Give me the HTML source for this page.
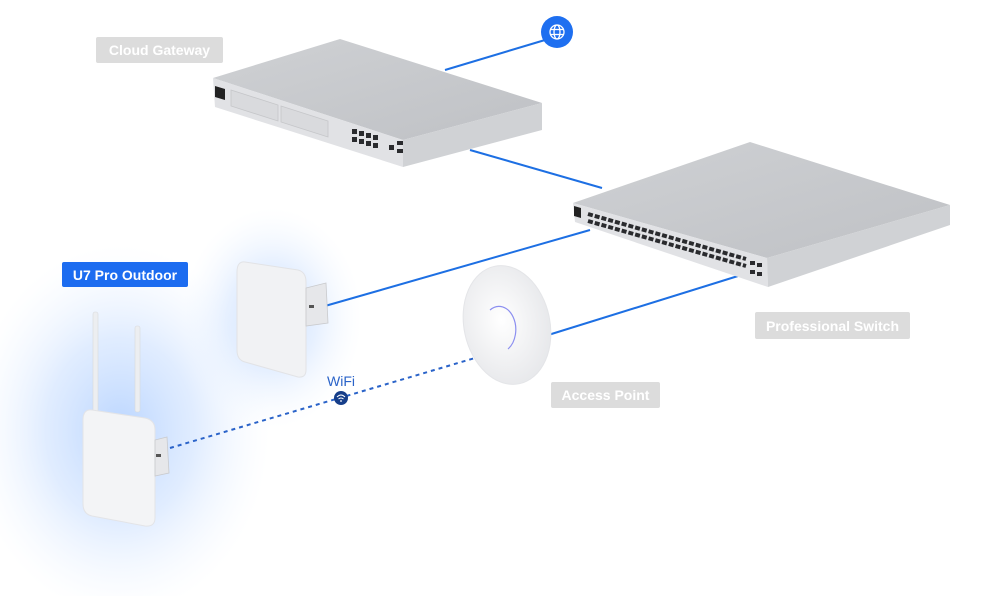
<!DOCTYPE html>
<html><head><meta charset="utf-8"><style>
html,body{margin:0;padding:0;background:#fff;width:1000px;height:596px;overflow:hidden}
svg{display:block}
text{font-family:"Liberation Sans",sans-serif}
</style></head><body>
<svg width="1000" height="596" viewBox="0 0 1000 596" xmlns="http://www.w3.org/2000/svg">
<defs>
<radialGradient id="g1" cx="0.5" cy="0.5" r="0.5">
<stop offset="0" stop-color="#8dbaff" stop-opacity="0.6"/>
<stop offset="0.5" stop-color="#b3d1ff" stop-opacity="0.4"/>
<stop offset="1" stop-color="#e2eeff" stop-opacity="0"/>
</radialGradient>
<linearGradient id="top" x1="0" y1="0" x2="1" y2="1">
<stop offset="0" stop-color="#cfd1d4"/><stop offset="1" stop-color="#bfc1c5"/>
</linearGradient>
<radialGradient id="apg" cx="0.45" cy="0.45" r="0.6">
<stop offset="0" stop-color="#ffffff"/><stop offset="1" stop-color="#e6e7ea"/>
</radialGradient>
</defs>

<!-- glows -->
<ellipse cx="120" cy="430" rx="150" ry="185" fill="url(#g1)"/>
<ellipse cx="272" cy="318" rx="90" ry="110" fill="url(#g1)" opacity="0.8"/>

<!-- connectors -->
<g stroke="#1d6fe3" stroke-width="2" fill="none">
<line x1="545" y1="40" x2="445" y2="70"/>
<line x1="470" y1="150" x2="602" y2="188"/>
<line x1="590" y1="230" x2="325" y2="306"/>
<line x1="545" y1="336" x2="738" y2="276"/>
<line x1="170" y1="448" x2="475" y2="358" stroke-dasharray="4 4" stroke="#2a63c9"/>
</g>

<!-- globe -->
<circle cx="557" cy="32" r="16" fill="#1e6ff0"/>
<g stroke="#fff" stroke-width="1.3" fill="none">
<circle cx="557" cy="32" r="7"/><ellipse cx="557" cy="32" rx="3" ry="7"/>
<line x1="550" y1="29.5" x2="564" y2="29.5"/><line x1="550" y1="34.5" x2="564" y2="34.5"/>
</g>

<!-- Cloud gateway -->
<polygon points="213,78 340,39 542,103 403,140" fill="url(#top)"/>
<polygon points="213,78 403,140 403,167 215,107" fill="#e1e2e5"/>
<polygon points="403,140 542,103 542,130 403,167" fill="#d0d2d5"/>
<polygon points="215,86 225,89 225,100 215,97" fill="#222"/>
<polygon points="231,90 278,105 278,121 231,106" fill="#d9dadd" stroke="#c5c6c9" stroke-width="0.8"/>
<polygon points="281,106 328,121 328,137 281,122" fill="#d9dadd" stroke="#c5c6c9" stroke-width="0.8"/>
<g fill="#2a2b2e">
<rect x="352" y="129" width="5" height="5"/><rect x="359" y="131" width="5" height="5"/><rect x="366" y="133" width="5" height="5"/><rect x="373" y="135" width="5" height="5"/>
<rect x="352" y="137" width="5" height="5"/><rect x="359" y="139" width="5" height="5"/><rect x="366" y="141" width="5" height="5"/><rect x="373" y="143" width="5" height="5"/>
<rect x="389" y="145" width="5" height="5"/><rect x="397" y="141" width="6" height="4"/><rect x="397" y="149" width="6" height="4"/>
</g>

<!-- Professional switch -->
<polygon points="573,203 750,142 950,205 767,258" fill="url(#top)"/>
<polygon points="573,203 767,258 768,287 575,222" fill="#e1e2e5"/>
<polygon points="767,258 950,205 950,225 768,287" fill="#d0d2d5"/>
<polygon points="574,206 581,208 581,218 574,216" fill="#222"/>
<g stroke="#2a2b2e" stroke-width="4" stroke-dasharray="5 2">
<line x1="588" y1="214" x2="746" y2="259"/>
<line x1="588" y1="221" x2="746" y2="266"/>
</g>
<g fill="#2a2b2e">
<rect x="750" y="261" width="5" height="4"/><rect x="757" y="263" width="5" height="4"/>
<rect x="750" y="270" width="5" height="4"/><rect x="757" y="272" width="5" height="4"/>
</g>

<!-- outdoor AP 1 (upper) -->
<path d="M245,262 L298,270 Q306,272 306,282 L306,370 Q306,378 298,377 L245,362 Q237,360 237,350 L237,272 Q237,261 245,262 Z" fill="#f1f2f4" stroke="#e2e3e6" stroke-width="1"/>
<polygon points="306,288 326,283 328,323 306,326" fill="#e6e7ea" stroke="#c9cacd" stroke-width="0.8"/>
<rect x="309" y="305" width="5" height="3" fill="#555"/>

<!-- outdoor AP 2 (antennas) -->
<rect x="93" y="312" width="5" height="100" rx="2" fill="#eceef1" stroke="#d8dadd" stroke-width="0.6"/>
<rect x="135" y="326" width="5" height="86" rx="2" fill="#eceef1" stroke="#d8dadd" stroke-width="0.6"/>
<path d="M92,410 L145,418 Q155,420 155,430 L155,518 Q155,527 145,526 L92,516 Q83,514 83,504 L83,420 Q83,409 92,410 Z" fill="#f3f4f6" stroke="#e3e4e7" stroke-width="1"/>
<polygon points="155,440 167,437 169,473 155,476" fill="#e6e7ea" stroke="#c9cacd" stroke-width="0.8"/>
<rect x="156" y="454" width="5" height="3" fill="#555"/>

<!-- access point -->
<ellipse cx="507" cy="325" rx="43" ry="60" transform="rotate(-12 507 325)" fill="url(#apg)" stroke="#e4e5e8" stroke-width="1"/>
<path d="M490,310 A16,22 0 0 1 508,349" fill="none" stroke="#8c8ff0" stroke-width="1.2"/>

<!-- WiFi -->
<text x="341" y="386" font-size="14" fill="#2a63c9" text-anchor="middle">WiFi</text>
<circle cx="341" cy="398" r="7" fill="#163e8a"/>
<g stroke="#fff" stroke-width="1" fill="none">
<path d="M337,397 Q341,393 345,397"/><path d="M338.5,399 Q341,397 343.5,399"/>
</g>
<circle cx="341" cy="401" r="0.9" fill="#fff"/>

<!-- labels -->
<rect x="96" y="37" width="127" height="26" rx="2" fill="#dcdcdc"/>
<text x="159.5" y="55" font-size="14" font-weight="bold" fill="#fff" text-anchor="middle">Cloud Gateway</text>
<rect x="62" y="262" width="126" height="25" rx="2" fill="#1c6cf0"/>
<text x="125" y="280" font-size="14" font-weight="bold" fill="#fff" text-anchor="middle">U7 Pro Outdoor</text>
<rect x="755" y="312" width="155" height="27" rx="2" fill="#dcdcdc"/>
<text x="832.5" y="331" font-size="14" font-weight="bold" fill="#fff" text-anchor="middle">Professional Switch</text>
<rect x="551" y="382" width="109" height="26" rx="2" fill="#dcdcdc"/>
<text x="605.5" y="400" font-size="14" font-weight="bold" fill="#fff" text-anchor="middle">Access Point</text>
</svg>
</body></html>
